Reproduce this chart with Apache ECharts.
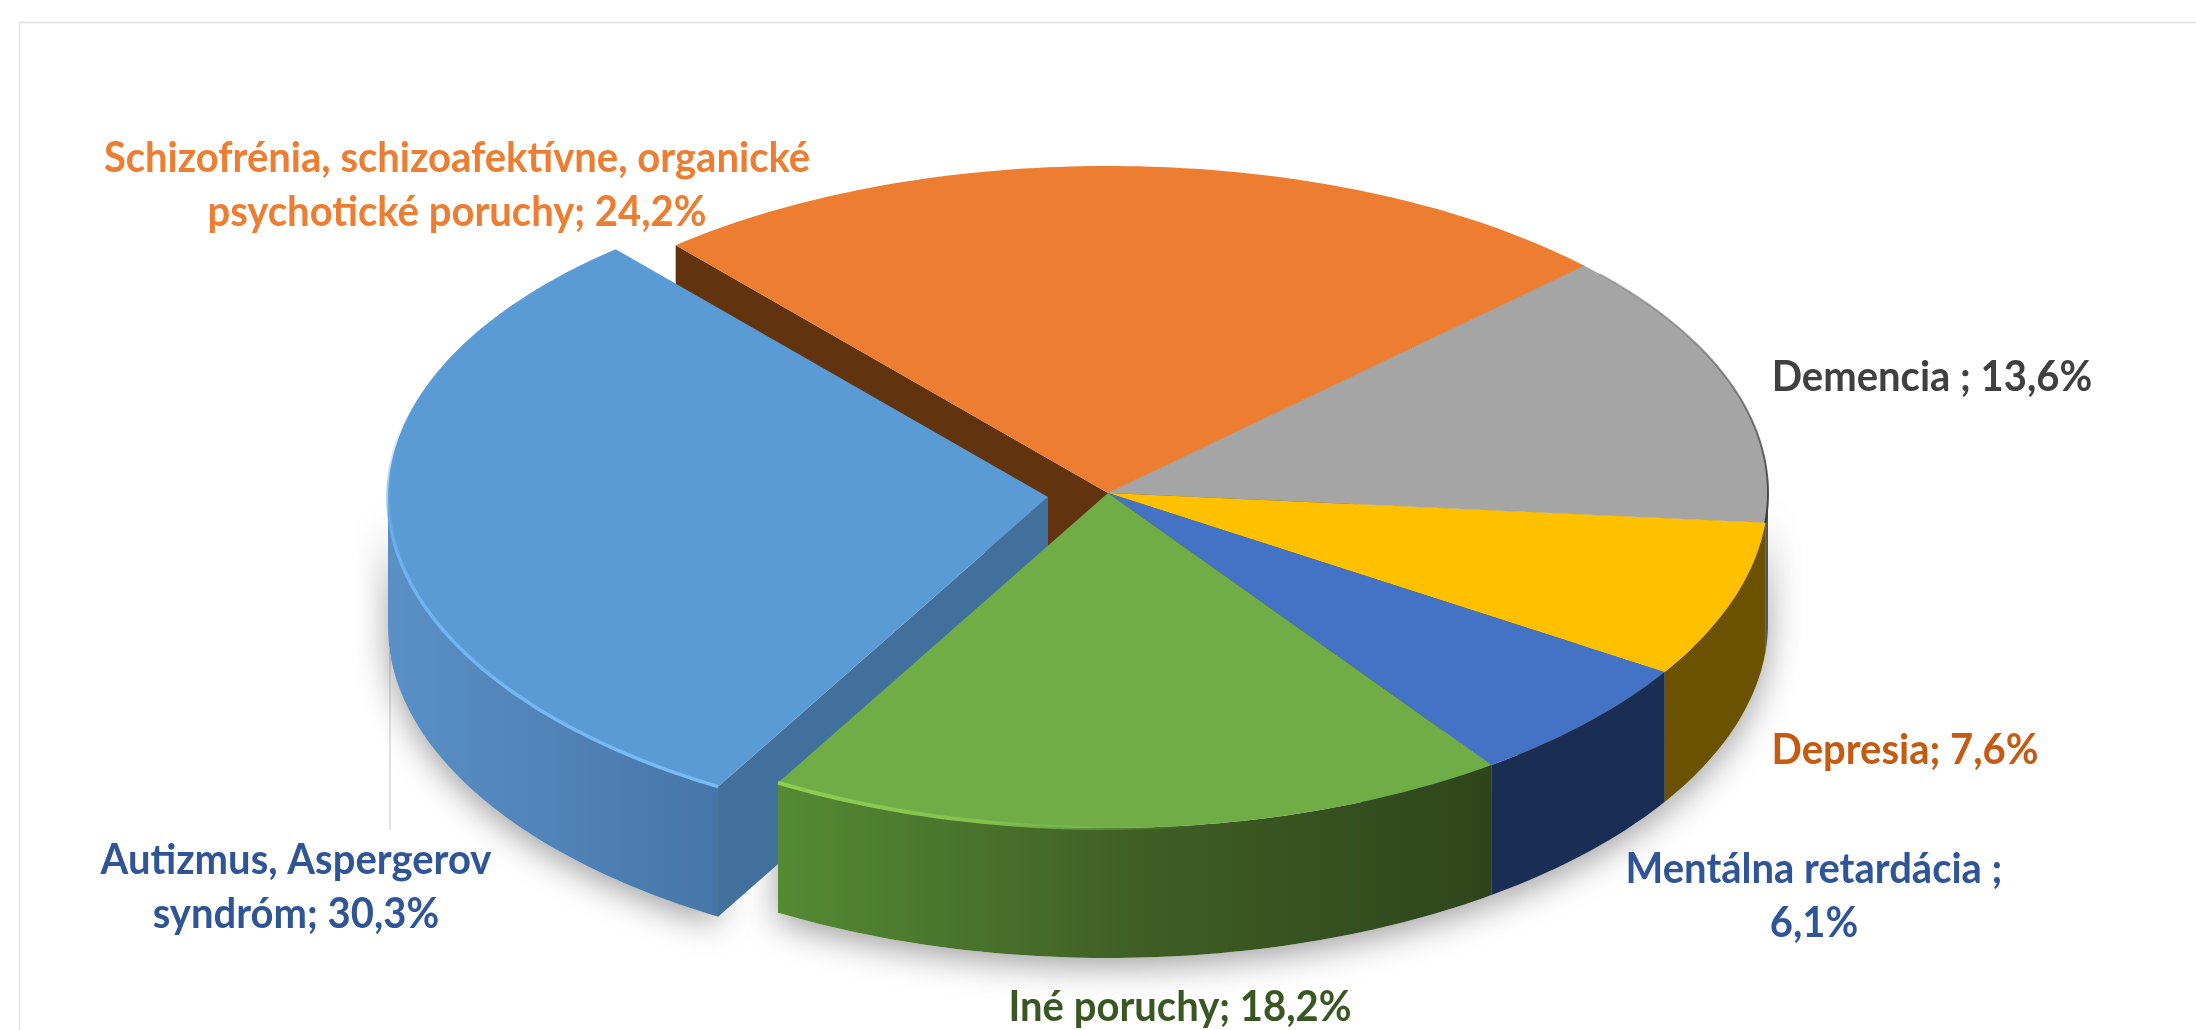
<!DOCTYPE html>
<html lang="sk">
<head>
<meta charset="utf-8">
<title>Diagnózy</title>
<style>
  html, body { margin: 0; padding: 0; background: #ffffff; }
  #chart { width: 2196px; height: 1030px; }
</style>
<script src="https://cdn.jsdelivr.net/npm/echarts@6/dist/echarts.min.js"></script>
</head>
<body>
<div id="chart"></div>
<script>
// Shares in percent, clockwise from the lower-left edge of the first slice.
const categories = [
  'Autizmus, Aspergerov\nsyndróm',
  'Schizofrénia, schizoafektívne, organické\npsychotické poruchy',
  'Demencia',
  'Depresia',
  'Mentálna retardácia',
  'Iné poruchy'
];
const shares = [30.3, 24.2, 13.6, 7.6, 6.1, 18.2];
const labelSeparators = ['; ', '; ', ' ; ', '; ', ' ;\n', '; '];

// Styling per slice, same order as the data.
const topColors = ['#5b9bd5', '#ed7d31', '#a5a5a5', '#ffc000', '#4472c4', '#70ad47'];
const sideColors = ['#41709c', '#61330f', '#6a6a6a', '#6b5200', '#1a2d54', '#3f6128'];
const wallStops = [
  ['#5a90c6', '#4676a8'],
  ['#8a4a1c', '#8a4a1c'],
  ['#555555', '#555555'],
  ['#6b5200', '#6b5200'],
  ['#1a2d54', '#1a2d54'],
  ['#558a34', '#3f5f25', '#2e451b']
];
const labelColors = ['#2f5597', '#ed7d31', '#404040', '#c55a11', '#2f5597', '#385723'];
const labelCenters = [
  [296, 887], [457, 185], [1932, 377], [1905, 750], [1814, 896], [1180, 1007]
];

// Projection of the tilted disc.
const START_DEG = 210;
const CX = 1108, CY = 493;
const RX = 660, RY_MID = 331, RY_SKEW = 4;
const DEPTH = 130;
const EXPLODE = [[-60, 4], [0, 0], [0, 0], [0, 0], [0, 0], [0, 0]];
const RAD = Math.PI / 180;
const LAYER = { shadow: 0, innerSide: 1, exploded: 2, main: 3, rim: 4, label: 5 };

const total = shares.reduce((a, b) => a + b, 0);

function rimPoint(cx, cy, deg, drop) {
  const c = Math.cos(deg * RAD);
  const ry = RY_MID - RY_SKEW * c;
  return [cx + RX * Math.sin(deg * RAD), cy - ry * c + drop];
}
function arc(cx, cy, from, to, drop) {
  const pts = [];
  const n = Math.max(2, Math.ceil(Math.abs(to - from)));
  for (let i = 0; i <= n; i++) {
    pts.push(rimPoint(cx, cy, from + (to - from) * i / n, drop));
  }
  return pts;
}
function gradientX(stops) {
  return new echarts.graphic.LinearGradient(0, 0, 1, 0, stops.map((color, i) => ({
    offset: i / (stops.length - 1), color
  })));
}

function renderSlice(params, api) {
  const i = params.dataIndex;
  const value = api.value(0);
  const before = shares.slice(0, i).reduce((a, b) => a + b, 0);
  const a0 = START_DEG + before / total * 360;
  const a1 = a0 + value / total * 360;
  const cx = CX + EXPLODE[i][0];
  const cy = CY + EXPLODE[i][1];
  const exploded = EXPLODE[i][0] !== 0;
  const body = exploded ? LAYER.exploded : LAYER.main;
  const children = [];

  // Curved outer wall: the part of the rim that faces the viewer lies between 90 and 270 degrees.
  const spans = [[a0, a1], [a0 - 360, a1 - 360]];
  spans.forEach(([s, e]) => {
    const from = Math.max(s, 90), to = Math.min(e, 270);
    if (to <= from) return;
    const wall = arc(cx, cy, from, to, 0).concat(arc(cx, cy, to, from, DEPTH));
    children.push({
      type: 'polygon', z2: LAYER.shadow, shape: { points: wall },
      style: { fill: '#ffffff', shadowBlur: 34, shadowColor: 'rgba(0,0,0,0.38)', shadowOffsetY: 8 }
    });
    children.push({
      type: 'polygon', z2: body, shape: { points: wall },
      style: { fill: gradientX(wallStops[i]) }
    });
  });

  // Flat cut faces, seen where the slice edge turns toward the viewer.
  [[a0, -1], [a1, 1]].forEach(([deg, sign]) => {
    if (sign * Math.sin(deg * RAD) <= 0) return;
    const rim = rimPoint(cx, cy, deg, 0);
    children.push({
      type: 'polygon', z2: exploded ? body : LAYER.innerSide,
      shape: { points: [[cx, cy], rim, [rim[0], rim[1] + DEPTH], [cx, cy + DEPTH]] },
      style: { fill: sideColors[i] }
    });
  });

  // Top surface.
  children.push({
    type: 'polygon', z2: body,
    shape: { points: [[cx, cy]].concat(arc(cx, cy, a0, a1, 0)) },
    style: { fill: topColors[i] }
  });

  // Bevel highlights and the thin dark outline on the right.
  if (i === 0) {
    children.push({
      type: 'polyline', z2: LAYER.exploded, shape: { points: arc(cx, cy, a0, 285, 0) },
      style: {
        fill: 'none', lineWidth: 3.5,
        stroke: new echarts.graphic.LinearGradient(0, 1, 0, 0, [
          { offset: 0, color: '#79bbf5' }, { offset: 0.6, color: '#6fb1ee' }, { offset: 1, color: 'rgba(91,155,213,0)' }
        ])
      }
    });
  }
  if (i === 5) {
    children.push({
      type: 'polyline', z2: LAYER.rim, shape: { points: arc(cx, cy, a1, a1 - 38, 0) },
      style: {
        fill: 'none', lineWidth: 4,
        stroke: gradientX(['#8fd052', '#83c04e', 'rgba(112,173,71,0)'])
      }
    });
  }
  if (i === 2) {
    children.push({
      type: 'polyline', z2: LAYER.rim, shape: { points: arc(cx, cy, a0 + 2, a1, 0) },
      style: {
        fill: 'none', lineWidth: 2,
        stroke: new echarts.graphic.LinearGradient(0, 0, 0, 1, [
          { offset: 0, color: 'rgba(110,110,110,0.4)' }, { offset: 1, color: 'rgba(50,50,50,0.95)' }
        ])
      }
    });
  }

  // Data label.
  const label = categories[i] + labelSeparators[i] + value.toFixed(1).replace('.', ',') + '%';
  children.push({
    type: 'text', z2: LAYER.label,
    x: labelCenters[i][0], y: labelCenters[i][1],
    scaleY: 1.06,
    style: {
      text: label, fill: labelColors[i], font: '700 40px Lato, "Open Sans", sans-serif',
      align: 'center', verticalAlign: 'middle', lineHeight: 51
    }
  });

  return { type: 'group', children };
}

const chart = echarts.init(document.getElementById('chart'), null, { renderer: 'canvas' });
chart.setOption({
  backgroundColor: '#ffffff',
  animation: false,
  tooltip: { show: false },
  graphic: [
    // Chart area frame, top and left edges.
    { type: 'line', silent: true, shape: { x1: 19, y1: 22.5, x2: 2196, y2: 22.5 }, style: { stroke: '#e6e6e6', lineWidth: 2 } },
    { type: 'line', silent: true, shape: { x1: 19.5, y1: 22, x2: 19.5, y2: 1030 }, style: { stroke: '#e6e6e6', lineWidth: 1.5 } },
    // Leader line of the first label.
    { type: 'line', silent: true, shape: { x1: 390, y1: 650, x2: 390, y2: 830 }, style: { stroke: '#c4c4c4', lineWidth: 1 } }
  ],
  series: [{
    type: 'custom',
    coordinateSystem: 'none',
    silent: true,
    renderItem: renderSlice,
    data: shares.map((v, i) => ({ name: categories[i], value: [v] }))
  }]
});
</script>
</body>
</html>
